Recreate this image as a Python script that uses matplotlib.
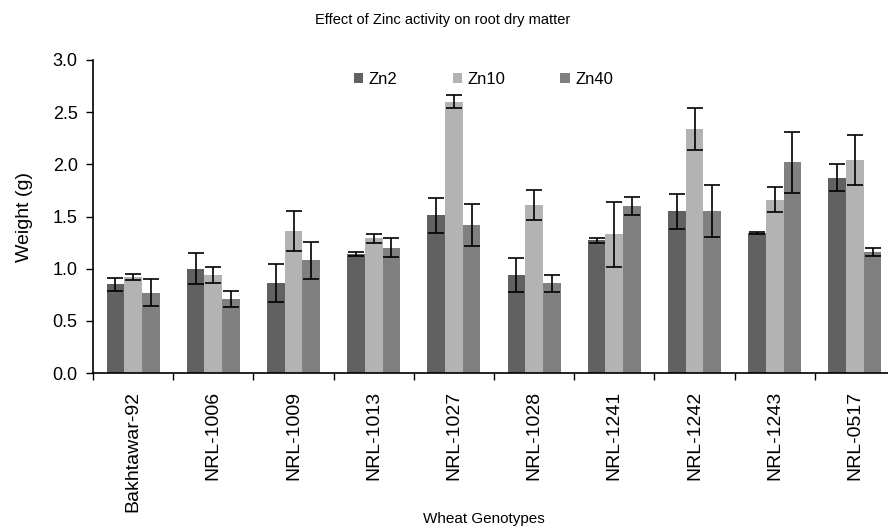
import numpy as np
import matplotlib
matplotlib.use("Agg")
import matplotlib.pyplot as plt

genotypes = ["Bakhtawar-92", "NRL-1006", "NRL-1009", "NRL-1013", "NRL-1027",
             "NRL-1028", "NRL-1241", "NRL-1242", "NRL-1243", "NRL-0517"]
series = ["Zn2", "Zn10", "Zn40"]

zn2 = [0.85, 1.00, 0.86, 1.14, 1.51, 0.94, 1.27, 1.55, 1.34, 1.87]
zn10 = [0.92, 0.94, 1.36, 1.29, 2.60, 1.61, 1.33, 2.34, 1.66, 2.04]
zn40 = [0.77, 0.71, 1.08, 1.20, 1.42, 0.86, 1.60, 1.55, 2.02, 1.16]

zn2_err = [0.06, 0.15, 0.18, 0.02, 0.17, 0.16, 0.02, 0.17, 0.01, 0.13]
zn10_err = [0.03, 0.08, 0.19, 0.04, 0.06, 0.14, 0.31, 0.20, 0.12, 0.24]
zn40_err = [0.13, 0.08, 0.18, 0.09, 0.20, 0.08, 0.09, 0.25, 0.29, 0.04]

colors = ["#616161", "#b3b3b3", "#808080"]

plt.rcParams['font.family'] = ['Liberation Sans', 'DejaVu Sans']

fig = plt.figure(figsize=(8.88, 5.31), dpi=100)
ax = fig.add_axes([93 / 888, 1 - 373 / 531, 802 / 888, 313 / 531])

x = np.arange(len(genotypes))
w = 0.22
vals = [zn2, zn10, zn40]
errs = [zn2_err, zn10_err, zn40_err]
for i in range(3):
    ax.bar(x + (i - 1) * w, vals[i], w, color=colors[i], label=series[i],
           yerr=errs[i], error_kw=dict(ecolor="black", elinewidth=1.2,
                                       capsize=5.5, capthick=1.2))

ax.set_xlim(-0.5, len(genotypes) - 0.5)
ax.set_ylim(0, 3.0)
ax.set_yticks(np.arange(0, 3.01, 0.5))
ax.set_yticklabels(["%.1f" % v for v in np.arange(0, 3.01, 0.5)], fontsize=13)

# boundary ticks, labels centred under each group
ax.set_xticks(np.arange(-0.5, len(genotypes), 1.0))
ax.set_xticklabels([])
ax.set_xticks(x, minor=True)
ax.set_xticklabels(genotypes, minor=True, rotation=90, fontsize=14)
ax.tick_params(axis="x", which="minor", length=0, pad=13)
ax.tick_params(axis="x", which="major", length=5, direction="out", width=1)
ax.tick_params(axis="y", length=5, direction="out", width=1, pad=6)

for s in ["top", "right"]:
    ax.spines[s].set_visible(False)
ax.spines["left"].set_linewidth(1.2)
ax.spines["bottom"].set_linewidth(1.2)

ax.set_ylabel("Weight (g)", fontsize=14, labelpad=14)
fig.text(0.545, 0.015, "Wheat Genotypes", ha="center", fontsize=11)
fig.text(0.499, 0.955, "Effect of Zinc activity on root dry matter",
         ha="center", fontsize=10.5)

ax.legend(loc="upper center", bbox_to_anchor=(0.487, 1.01), ncol=3, frameon=False,
          fontsize=12, handlelength=0.55, handleheight=0.55, handletextpad=0.35,
          columnspacing=3.3)

fig.savefig("out.png", dpi=100)
